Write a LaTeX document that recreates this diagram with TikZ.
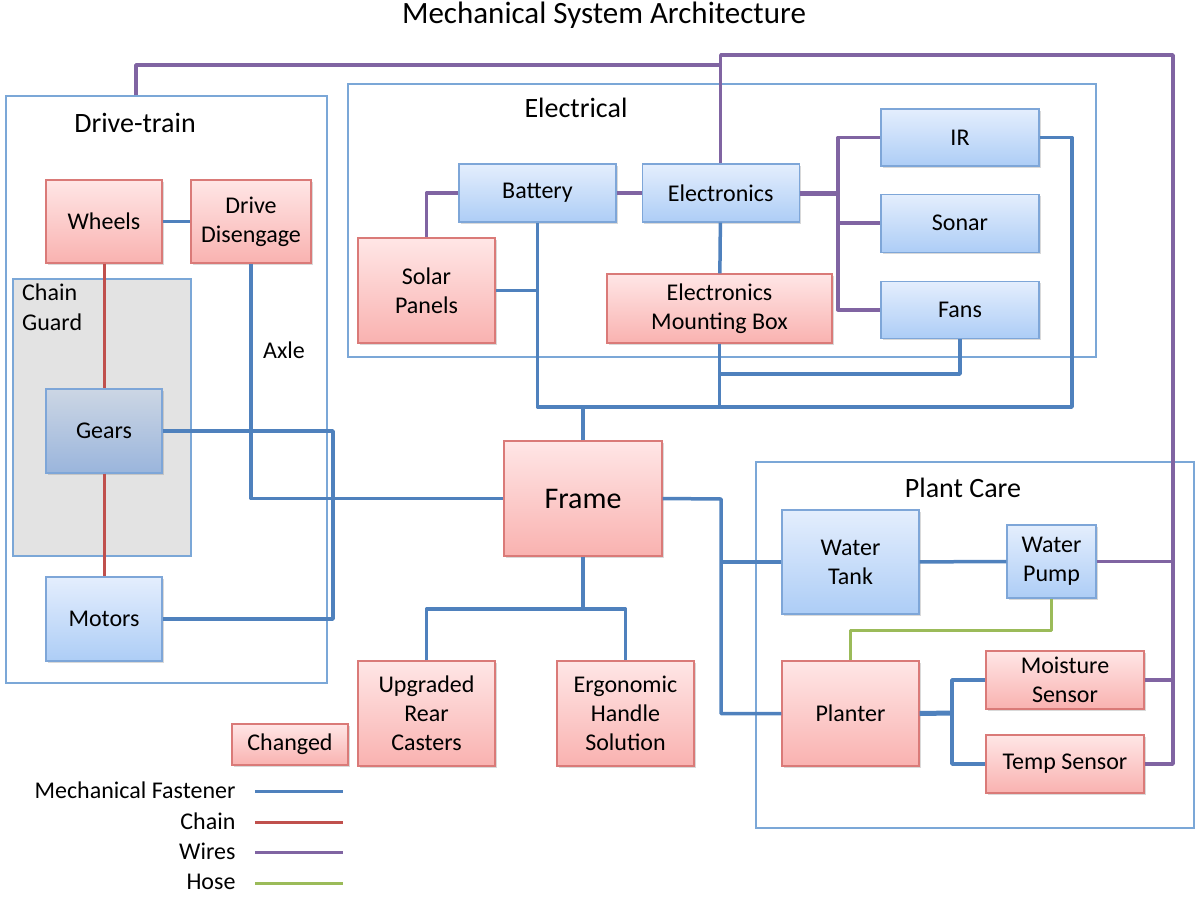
\documentclass[tikz,border=0pt]{standalone}
\usepackage{fontspec}
\setmainfont{Carlito}
\usetikzlibrary{positioning, shadows}

\definecolor{fastener}{RGB}{79,129,189}
\definecolor{chainred}{RGB}{192,80,77}
\definecolor{wirepurple}{RGB}{128,100,162}
\definecolor{hosegreen}{RGB}{155,187,89}
\definecolor{pinktop}{RGB}{255,230,230}
\definecolor{pinkbot}{RGB}{249,178,176}
\definecolor{pinkline}{RGB}{218,122,120}
\definecolor{bluetop}{RGB}{228,238,253}
\definecolor{bluebot}{RGB}{173,205,246}
\definecolor{blueline}{RGB}{126,166,216}
\definecolor{geartop}{RGB}{204,214,228}
\definecolor{gearbot}{RGB}{154,181,220}
\definecolor{groupline}{RGB}{123,167,215}

\begin{document}
\begin{tikzpicture}[x=1pt, y=-1pt]
\tikzset{box/.style={rectangle, line width=1.2pt, align=center, inner sep=2pt, font=\fontsize{24}{29}\selectfont, drop shadow={shadow xshift=1.5pt, shadow yshift=-2pt, opacity=0.3}},
  changedbox/.style={box, draw=pinkline, top color=pinktop, bottom color=pinkbot},
  partbox/.style={box, draw=blueline, top color=bluetop, bottom color=bluebot},
  group/.style={rectangle, draw=groupline, line width=1.3pt, inner sep=0pt},
  grouplabel/.style={font=\fontsize{28}{32}\selectfont},
  link/.style={line width=3.5pt, line join=round},
  fasten/.style={link, draw=fastener},
  chain/.style={link, draw=chainred, line width=3pt},
  wire/.style={link, draw=wirepurple},
  hose/.style={link, draw=hosegreen, line width=3pt},
  legend/.style={font=\fontsize{24}{28}\selectfont, anchor=east}}
\useasboundingbox (0,0) rectangle (1195,897);

\node[font=\fontsize{31}{36}\selectfont] (title) at (604,15) {Mechanical System Architecture};

\node[group, minimum width=321, minimum height=587] (dtrain) at (166.5,389.5) {};
\node[group, minimum width=748, minimum height=273] (elec) at (722,220.5) {};
\node[group, minimum width=438, minimum height=366] (plant) at (975,645) {};
\node[group, fill=black!11, minimum width=178, minimum height=277] (guard) at (102,417.5) {};
\node[grouplabel] (dtrainlabel) at (135,123) {Drive-train};
\node[grouplabel] (eleclabel) at (576,108) {Electrical};
\node[grouplabel] (plantlabel) at (963,488) {Plant Care};
\node[font=\fontsize{24}{30}\selectfont, align=left, anchor=north west, inner sep=0pt] (guardlabel) at (22,284) {Chain\\Guard};
\node[font=\fontsize{24}{28}\selectfont] (axle) at (284,350) {Axle};

\node[changedbox, minimum width=116, minimum height=83] (wheels) at (104,221.5) {Wheels};
\node[changedbox, minimum width=120, minimum height=83] (drive) at (251,221.5) {Drive\\Disengage};
\node[box, draw=blueline, top color=geartop, bottom color=gearbot, minimum width=116, minimum height=84] (gears) at (104,431) {Gears};
\node[partbox, minimum width=116, minimum height=84] (motors) at (104,619) {Motors};

\node[partbox, minimum width=157, minimum height=58] (battery) at (537.5,193) {Battery};
\node[partbox, minimum width=157, minimum height=58, right=25pt of battery] (electronics) {Electronics};
\node[changedbox, minimum width=137, minimum height=105] (solar) at (426.5,290.5) {Solar\\Panels};
\node[changedbox, minimum width=225, minimum height=69] (mount) at (719.5,308.5) {Electronics\\Mounting Box};
\node[partbox, minimum width=158, minimum height=57] (ir) at (960,137.5) {IR};
\node[partbox, minimum width=158, minimum height=58, below=27pt of ir] (sonar) {Sonar};
\node[partbox, minimum width=158, minimum height=57, below=28pt of sonar] (fans) {Fans};

\node[changedbox, minimum width=158, minimum height=115, font=\fontsize{30}{36}\selectfont] (frame) at (583,498.5) {Frame};
\node[changedbox, minimum width=137, minimum height=105] (casters) at (426.5,713.5) {Upgraded\\Rear\\Casters};
\node[changedbox, minimum width=137, minimum height=105] (handle) at (625.5,713.5) {Ergonomic\\Handle\\Solution};
\node[changedbox, minimum width=116, minimum height=41] (changed) at (290,744.5) {Changed};

\node[partbox, minimum width=137, minimum height=104] (tank) at (850.5,562) {Water\\Tank};
\node[partbox, minimum width=89, minimum height=73] (pump) at (1051.5,561.5) {Water\\Pump};
\node[changedbox, minimum width=137, minimum height=105] (planter) at (850.5,713.5) {Planter};
\node[changedbox, minimum width=158, minimum height=58] (moist) at (1065,680) {Moisture\\Sensor};
\node[changedbox, minimum width=158, minimum height=58] (temp) at (1065,764) {Temp Sensor};

\coordinate (gm) at (333,499);
\coordinate (ebus) at (1072,407);
\coordinate (fanbus) at (960,374);
\coordinate (sens) at (838,193);
\coordinate (wtop) at (1173,55);
\coordinate (rail) at (1173,764);
\coordinate (dtap) at (136,65);
\coordinate (hosebend) at (850,630);
\coordinate (pcbus) at (721,499);
\coordinate (sbus) at (952,713);
\coordinate (fbus) at (583,609);

\draw[fasten] (wheels) -- (drive);
\draw[chain] (wheels) -- (gears);
\draw[chain] (gears) -- (motors);
\draw[fasten] (drive.south) |- (frame.west);
\draw[fasten] (gears.east) -| (gm) |- (motors.east);

\draw[fasten] (ir.east) -| (ebus) -- (battery.south |- ebus) -- (battery.south);
\draw[fasten, line width=4.5pt] (frame.north) -- (frame.north |- ebus);
\draw[fasten] (solar.east) -- (solar.east -| battery.south);
\draw[fasten] (electronics) -- (mount);
\draw[fasten] (mount.south) -- (mount.south |- ebus);
\draw[fasten] (fans.south) |- (mount.south |- fanbus);

\draw[wire] (battery.west) -| (solar.north);
\draw[wire] (battery) -- (electronics);
\draw[wire, line width=5pt] (electronics.east) -- (sens);
\draw[wire] (ir.west) -| (sens |- fans.west) -- (fans.west);
\draw[wire] (sonar.west) -- (sonar.west -| sens);
\draw[wire] (electronics.north) |- (wtop) -- (rail) -- (temp.east);
\draw[wire] (dtap |- dtrain.north) -- (dtap) -- (electronics.north |- dtap);
\draw[wire] (pump.east) -- (pump.east -| rail);
\draw[wire] (moist.east) -- (moist.east -| rail);

\draw[hose] (pump.south) |- (planter.north |- hosebend) -- (planter.north);

\draw[fasten] (frame.east) -- (pcbus) |- (planter.west);
\draw[fasten] (tank.west) -- (tank.west -| pcbus);
\draw[fasten] (tank) -- (pump);
\draw[fasten, line width=5pt] (planter.east) -- (sbus);
\draw[fasten] (moist.west) -| (sbus |- temp.west) -- (temp.west);
\draw[fasten, line width=4.5pt] (frame.south) -- (fbus);
\draw[fasten] (casters.north) |- (fbus) -| (handle.north);

\foreach \name/\sty/\y in {Mechanical Fastener/fasten/790, Chain/chain/821, Wires/wire/851, Hose/hose/882}
  \node[legend] (l\sty) at (239,\y) {\name};
\foreach \sty in {fasten, chain, wire, hose}
  \draw[\sty, line width=3pt] ([xshift=16pt, yshift=-1pt]l\sty.east) -- ++(88,0);
\end{tikzpicture}
\end{document}
